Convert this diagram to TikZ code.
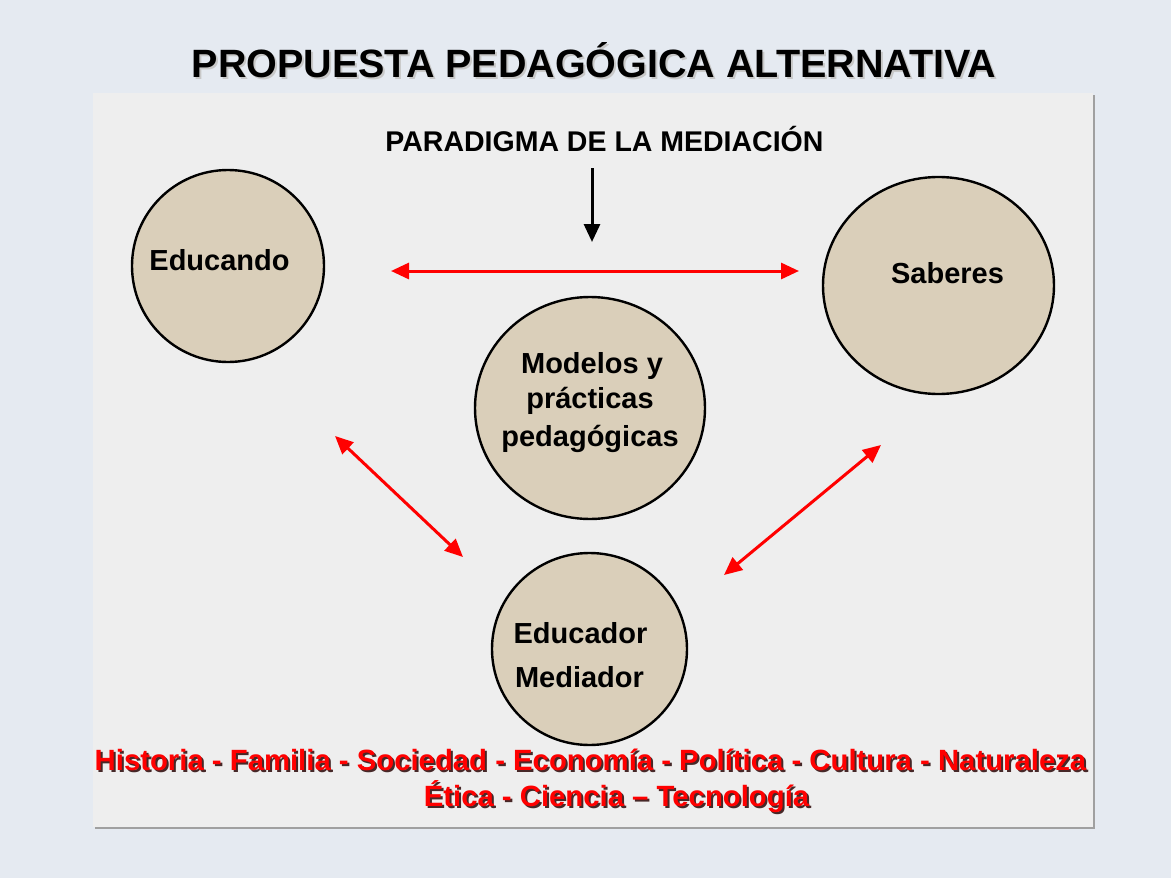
\documentclass[tikz,border=0pt]{standalone}
\usepackage{fontspec}
\setmainfont{Liberation Sans}
\usetikzlibrary{arrows.meta,shapes.geometric}

\definecolor{r229g234b241}{RGB}{229,234,241}
\definecolor{r238g238b238}{RGB}{238,238,238}
\definecolor{r160g160b160}{RGB}{160,160,160}
\definecolor{r218g207b186}{RGB}{218,207,186}
\definecolor{r200g200b200}{RGB}{200,200,200}
\definecolor{r255g0b0}{RGB}{255,0,0}
\definecolor{r70g40b40}{RGB}{70,40,40}

\tikzset{
  bubble/.style={ellipse, draw=black, line width=2.4pt, fill=r218g207b186, inner sep=0pt},
  bubbletxt/.style={anchor=base, font=\fontsize{29}{34}\selectfont\bfseries},
  redtxt/.style={anchor=base, text=r255g0b0, font=\fontsize{29.3}{34}\selectfont\bfseries},
  redshade/.style={anchor=base, text=r70g40b40, font=\fontsize{29.3}{34}\selectfont\bfseries},
  link/.style={draw=r255g0b0, line width=3pt, {Triangle[length=18pt,width=16pt]}-{Triangle[length=18pt,width=16pt]}}
}

\begin{document}
\begin{tikzpicture}[x=1pt,y=-1pt]
% Filling background
\fill[r229g234b241] (0,0) rectangle (1171,878);

% Filling panel with its shadow
\fill[r160g160b160] (95,95) rectangle (1095,829);
\fill[r238g238b238] (93,93) rectangle (1093,827);

% Title
\node[anchor=base, text=r200g200b200, font=\fontsize{39.5}{44}\selectfont\bfseries] at (596,79) {PROPUESTA PEDAGÓGICA ALTERNATIVA};
\node[anchor=base, font=\fontsize{39.5}{44}\selectfont\bfseries] (titulo) at (594,77) {PROPUESTA PEDAGÓGICA ALTERNATIVA};

% Paradigm label and its arrow
\node[anchor=base, font=\fontsize{28.5}{32}\selectfont\bfseries] (paradigma) at (604.5,151) {PARADIGMA DE LA MEDIACIÓN};
\coordinate (par-a) at (592,168);
\coordinate (par-b) at (592,242);
\draw[line width=3pt, -{Triangle[length=18pt,width=16pt]}] (par-a) -- (par-b);

% Drawing circle Educando
\node[bubble, minimum width=192, minimum height=192] (educando) at (228,266) {};
\node[bubbletxt] (educando-t) at (219.5,270) {Educando};

% Drawing circle Saberes
\node[bubble, minimum width=231, minimum height=217] (saberes) at (938.5,285.5) {};
\node[bubbletxt] (saberes-t) at (947.5,283) {Saberes};

% Drawing circle Modelos
\node[bubble, minimum width=230, minimum height=222] (modelos) at (590,408) {};
\node[bubbletxt] (modelos-t1) at (592,373) {Modelos y};
\node[bubbletxt] (modelos-t2) at (590,408) {prácticas};
\node[bubbletxt] (modelos-t3) at (590,446) {pedagógicas};

% Drawing circle Educador
\node[bubble, minimum width=195, minimum height=192] (educador) at (589.5,649) {};
\node[bubbletxt] (educador-t1) at (580.5,643) {Educador};
\node[bubbletxt] (educador-t2) at (579.5,687) {Mediador};

% Drawing links
\coordinate (educando-e) at (391,271);
\coordinate (saberes-w) at (799,271);
\draw[link] (educando-e) -- (saberes-w);

\coordinate (educando-se) at (335,436);
\coordinate (educador-nw) at (463,557);
\draw[link] (educando-se) -- (educador-nw);

\coordinate (saberes-sw) at (881,445);
\coordinate (educador-ne) at (724,575);
\draw[link] (saberes-sw) -- (educador-ne);

% Context line
\node[redshade] at (592.5,772) {Historia - Familia - Sociedad - Economía - Política - Cultura - Naturaleza};
\node[redtxt] (contexto1) at (590.5,770) {Historia - Familia - Sociedad - Economía - Política - Cultura - Naturaleza};
\node[redshade] at (618.5,808) {Ética - Ciencia – Tecnología};
\node[redtxt] (contexto2) at (616.5,806) {Ética - Ciencia – Tecnología};
\end{tikzpicture}
\end{document}
